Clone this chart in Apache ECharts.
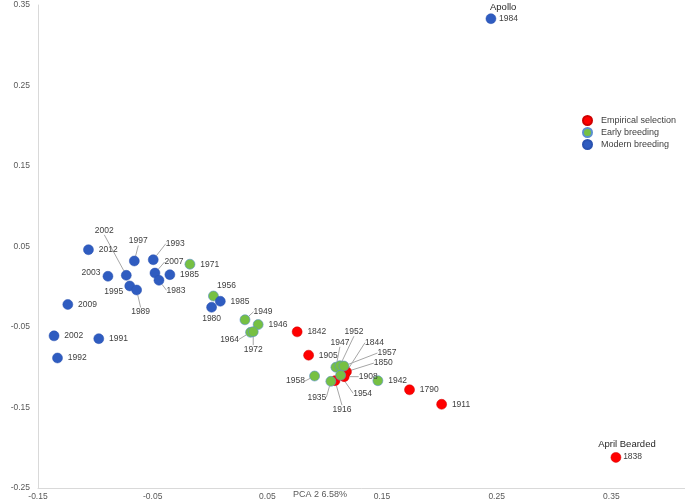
<!DOCTYPE html>
<html><head><meta charset="utf-8">
<script src="https://cdn.jsdelivr.net/npm/echarts@6/dist/echarts.min.js"></script>
<style>html,body{margin:0;padding:0;background:#fff}#c{width:685px;height:502px}</style>
</head><body><div id="c"></div>
<script>
// ---- data ----
const empYears = ['1842','1905','1844','1850','1908','1916','1790','1911','1838'];
const empX = [0.076, 0.086, 0.119, 0.118, 0.117, 0.109, 0.174, 0.202, 0.354];
const empY = [-0.056, -0.085, -0.1055, -0.106, -0.1117, -0.1167, -0.128, -0.146, -0.212];

const earlyYears = ['1971','1956','1949','1946','1964','1972','1947','1952','1957','1954','1935','1958','1942'];
const earlyX = [-0.0175, 0.003, 0.0305, 0.042, 0.0354, 0.0377, 0.1098, 0.1133, 0.1168, 0.1139, 0.1054, 0.0912, 0.1464];
const earlyY = [0.028, -0.0115, -0.041, -0.047, -0.0566, -0.0558, -0.100, -0.0981, -0.0985, -0.110, -0.1175, -0.1109, -0.1167];

const modYears = ['1984','2012','2003','2002','1997','1993','2007','1985','1983','1995','1989','2009','2002','1991','1992','1985','1980'];
const modX = [0.245, -0.106, -0.089, -0.073, -0.066, -0.0495, -0.048, -0.035, -0.0445, -0.070, -0.064, -0.124, -0.136, -0.097, -0.133, 0.009, 0.0014];
const modY = [0.333, 0.046, 0.013, 0.0142, 0.032, 0.0336, 0.017, 0.015, 0.008, 0.001, -0.004, -0.022, -0.061, -0.0645, -0.0885, -0.018, -0.0255];

const varietyNames = {mod: {0: 'Apollo'}, emp: {8: 'April Bearded'}};

const xTicks = [-0.15, -0.05, 0.05, 0.15, 0.25, 0.35];
const yTicks = [-0.25, -0.15, -0.05, 0.05, 0.15, 0.25, 0.35];

// ---- label placement (label centre offset from marker centre, px) ----
const empOff = [null, null, [28,-29], [38,-9], [24,0], [7,29], null, null, null];
const empLine = [0,0,1,1,1,1,0,0,0];
const earlyOff = [null, [13,-10], [18,-8], null, [-21,7], [0,18], [4,-25], [14,-34], [43,-13], [22,18], [-14,16], [-19,5], null];
const earlyLine = [0,0,1,0,1,1,1,1,1,1,1,1,0];
const modOff = [null, null, [-17,-4], [-22,-45], [4,-20], [22,-16], [19,-11], null, [17,10], [-16,6], [4,22], null, null, null, null, null, [0,11]];
const modLine = [0,0,0,1,1,1,1,0,1,0,1,0,0,0,0,0,0];

const offsets = [empOff, earlyOff, modOff];
const FONT = '"Liberation Sans", Arial, sans-serif';

function build(xs, ys, yrs, lines, key) {
  return xs.map((x, i) => {
    const item = {value: [x, ys[i]], name: yrs[i]};
    if (lines[i]) item.labelLine = {show: true};
    const nm = varietyNames[key] && varietyNames[key][i];
    if (nm) {
      item.label = {
        formatter: '{n|' + nm + '}\n{v|' + yrs[i] + '}',
        position: 'right', distance: 0,
        rich: {
          n: {fontSize: 9.5, color: '#262626', fontFamily: FONT, lineHeight: 12},
          v: {fontSize: 8.5, color: '#404040', fontFamily: FONT, lineHeight: 12,
              padding: [0, 0, 0, key === 'mod' ? 9 : 25]}
        }
      };
    }
    return item;
  });
}

const labelFont = {show: true, position: 'right', distance: 5, fontSize: 8.5, color: '#404040',
  fontFamily: FONT, formatter: p => p.name};

function layout(p) {
  const offArr = offsets[p.seriesIndex];
  let o = offArr && offArr[p.dataIndex];
  if (p.seriesIndex === 2 && p.dataIndex === 0) o = [13, -6];
  if (p.seriesIndex === 0 && p.dataIndex === 8) o = [11, -7];
  if (!o) return {};
  const cx = p.rect.x + p.rect.width / 2, cy = p.rect.y + p.rect.height / 2;
  const lx = p.labelRect.x + p.labelRect.width / 2, ly = p.labelRect.y + p.labelRect.height / 2;
  return {dx: cx + o[0] - lx, dy: cy + o[1] - ly};
}

const common = {type: 'scatter', symbol: 'circle', symbolSize: 10, label: labelFont,
  labelLine: {show: false, lineStyle: {color: '#a6a6a6', width: 1}},
  labelLayout: layout, emphasis: {disabled: true}};

const chart = echarts.init(document.getElementById('c'), null, {renderer: 'canvas'});
chart.setOption({
  animation: false,
  grid: {left: 38, right: -41, top: 5, bottom: 14, containLabel: false, outerBoundsMode: 'none'},
  legend: {
    orient: 'vertical', left: 577, top: 110, itemWidth: 9, itemHeight: 9, itemGap: 1,
    icon: 'circle', textStyle: {fontSize: 9, color: '#404040', fontFamily: FONT, padding: [0,0,0,4]},
    data: ['Empirical selection', 'Early breeding', 'Modern breeding']
  },
  xAxis: {
    type: 'value', min: -0.15, max: 0.45, interval: 0.1,
    axisLine: {show: true, onZero: false, lineStyle: {color: '#d9d9d9'}},
    axisTick: {show: false}, splitLine: {show: false},
    axisLabel: {fontSize: 8.5, color: '#595959', fontFamily: FONT, margin: 4,
      formatter: v => (Math.round(v * 100) / 100).toFixed(2)}
  },
  yAxis: {
    type: 'value', min: -0.25, max: 0.35, interval: 0.1,
    name: 'PCA1 8.66%', nameLocation: 'middle', nameRotate: 90, nameGap: 30,
    nameTextStyle: {fontSize: 9, color: '#595959', fontFamily: FONT},
    axisLine: {show: true, onZero: false, lineStyle: {color: '#d9d9d9'}},
    axisTick: {show: false}, splitLine: {show: false},
    axisLabel: {fontSize: 8.5, color: '#595959', fontFamily: FONT, margin: 8,
      formatter: v => (Math.round(v * 100) / 100).toFixed(2)}
  },
  graphic: [{type: 'text', left: 293, top: 490,
    style: {text: 'PCA 2 6.58%', fontSize: 9, fill: '#595959', fontFamily: FONT}}],
  series: [
    Object.assign({}, common, {name: 'Empirical selection', itemStyle: {color: '#ff0000', borderColor: '#d00000', borderWidth: 0.5, opacity: 1},
      data: build(empX, empY, empYears, empLine, 'emp')}),
    Object.assign({}, common, {name: 'Early breeding', itemStyle: {color: '#76c043', borderColor: '#5b8fd0', borderWidth: 0.6, opacity: 1},
      data: build(earlyX, earlyY, earlyYears, earlyLine, 'early')}),
    Object.assign({}, common, {name: 'Modern breeding', itemStyle: {color: '#2f5cc0', borderColor: '#2a52b0', borderWidth: 0.5, opacity: 1},
      data: build(modX, modY, modYears, modLine, 'mod')})
  ]
});
</script></body></html>
